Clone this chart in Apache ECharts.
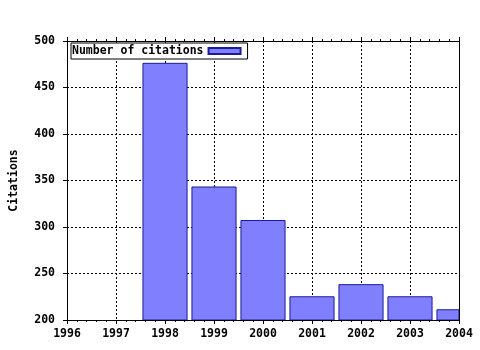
<!DOCTYPE html>
<html><head><meta charset="utf-8">
<script src="https://cdn.jsdelivr.net/npm/echarts@6/dist/echarts.min.js"></script>
<style>html,body{margin:0;padding:0;background:#fff}#c{width:480px;height:350px}</style>
</head><body><div id="c"></div>
<script>
var years = [1998, 1999, 2000, 2001, 2002, 2003, 2004];
var citations = [476, 343, 307, 225, 238, 225, 211];
var seriesName = 'Number of citations';
var yTitle = 'Citations';

var font = 'DejaVu Sans Mono';
var fs = 11.5;
var lbl = {color:'#000', fontFamily:font, fontWeight:'bold', fontSize:fs};
var chart = echarts.init(document.getElementById('c'), null, {renderer:'canvas'});
var data = years.map(function(y,i){return [y, citations[i]];});
var barFrac = 0.9;
function renderBar(params, api){
  var x = api.value(0), y = api.value(1);
  var p0 = api.coord([x - barFrac/2, y]);
  var p1 = api.coord([x + barFrac/2, 200]);
  var rect = echarts.graphic.clipRectByRect(
    {x:p0[0], y:p0[1], width:p1[0]-p0[0], height:p1[1]-p0[1]},
    {x:params.coordSys.x, y:params.coordSys.y, width:params.coordSys.width, height:params.coordSys.height});
  return rect && {type:'rect', shape:rect, style:api.style()};
}
chart.setOption({
  animation:false,
  backgroundColor:'#fff',
  grid:{left:65, right:21, top:41, bottom:30, containLabel:false},
  legend:{
    show:true, left:71, top:43, align:'right', orient:'horizontal',
    data:[seriesName], itemWidth:32, itemHeight:6, itemGap:4,
    backgroundColor:'#fff', borderColor:'#000', borderWidth:1, borderRadius:0,
    padding:[2,6,2,1],
    textStyle:{color:'#000', fontFamily:font, fontWeight:'bold', fontSize:fs},
    icon:'rect'
  },
  xAxis:[{
    type:'value', min:1996, max:2004, interval:1, position:'bottom',
    axisLine:{show:true, onZero:false, lineStyle:{color:'#000', width:1}},
    axisTick:{show:true, inside:false, length:4, lineStyle:{color:'#000'}},
    minorTick:{show:true, splitNumber:5, length:2, lineStyle:{color:'#000'}},
    axisLabel:Object.assign({margin:8, formatter:function(v){return String(v);}}, lbl),
    splitLine:{show:true, lineStyle:{color:'#000', type:[2,2], width:1}}
  },{
    type:'value', min:1996, max:2004, interval:1, position:'top',
    axisLine:{show:true, onZero:false, lineStyle:{color:'#000', width:1}},
    axisTick:{show:true, inside:false, length:4, lineStyle:{color:'#000'}},
    minorTick:{show:true, splitNumber:5, length:2, lineStyle:{color:'#000'}},
    axisLabel:{show:false}, splitLine:{show:false}
  }],
  yAxis:[{
    type:'value', min:200, max:500, interval:50, position:'left',
    name:yTitle, nameLocation:'middle', nameGap:47, nameRotate:90,
    nameTextStyle:{color:'#000', fontFamily:font, fontWeight:'bold', fontSize:fs},
    axisLine:{show:true, onZero:false, lineStyle:{color:'#000', width:1}},
    axisTick:{show:true, inside:false, length:4, lineStyle:{color:'#000'}},
    axisLabel:Object.assign({margin:12}, lbl),
    splitLine:{show:true, lineStyle:{color:'#000', type:[2,2], width:1}}
  },{
    type:'value', min:200, max:500, interval:50, position:'right',
    axisLine:{show:true, onZero:false, lineStyle:{color:'#000', width:1}},
    axisTick:{show:false}, axisLabel:{show:false}, splitLine:{show:false}
  }],
  series:[{
    name:seriesName, type:'custom', data:data, renderItem:renderBar,
    encode:{x:0, y:1}, clip:true,
    itemStyle:{color:'#8080ff', borderColor:'#1a1a9a', borderWidth:1}
  }]
});
</script></body></html>
